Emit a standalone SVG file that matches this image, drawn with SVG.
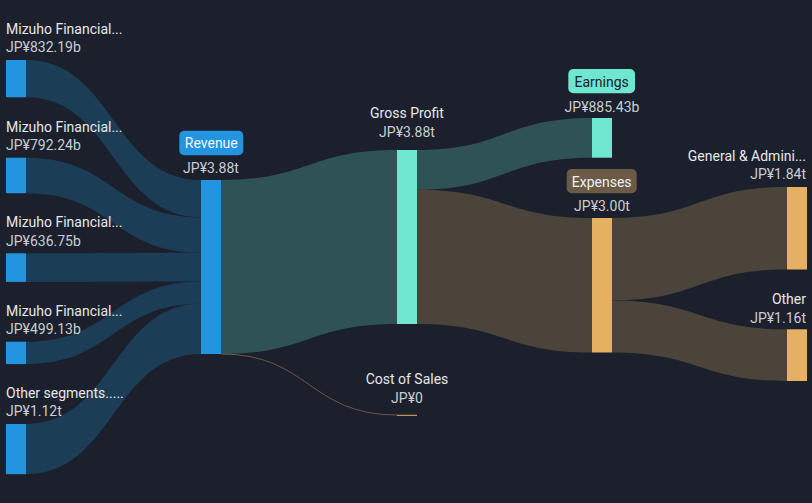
<svg xmlns="http://www.w3.org/2000/svg" width="812" height="503" viewBox="0 0 812 503">
<style>
text{font-family:Roboto,"Liberation Sans",sans-serif;font-size:14px}
.lbl{fill:#e6e8eb}
.val{fill:#c9cdd3}
.mid{text-anchor:middle}
.end{text-anchor:end}
.lseg{fill:#1c3d56}
.lrev{fill:#2f5257}
.lexp{fill:#4b443a}
.nblue{fill:#2394e0}
.nmint{fill:#6ee6d0}
.norange{fill:#e6b062}
</style>
<rect width="812" height="503" fill="#1b202c"/>
<g id="links">
<path class="lseg" d="M26,60 C113.5,60 113.5,180 201,180 L201,217.3 C113.5,217.3 113.5,97.3 26,97.3 Z"/>
<path class="lseg" d="M26,157.7 C113.5,157.7 113.5,217.3 201,217.3 L201,252.8 C113.5,252.8 113.5,193.2 26,193.2 Z"/>
<path class="lseg" d="M26,253.3 C113.5,253.3 113.5,252.8 201,252.8 L201,281.4 C113.5,281.4 113.5,281.9 26,281.9 Z"/>
<path class="lseg" d="M26,341.7 C113.5,341.7 113.5,281.4 201,281.4 L201,303.8 C113.5,303.8 113.5,364.1 26,364.1 Z"/>
<path class="lseg" d="M26,424 C113.5,424 113.5,303.8 201,303.8 L201,354 C113.5,354 113.5,474.2 26,474.2 Z"/>
<path class="lrev" d="M221,180 C309,180 309,150 397,150 L397,324 C309,324 309,354 221,354 Z"/>
<path d="M221,354 C309,354 309,415 397,415" fill="none" stroke="#6b5a45" stroke-width="1"/>
<path class="lrev" d="M417,150 C504.5,150 504.5,118 592,118 L592,157.7 C504.5,157.7 504.5,189.7 417,189.7 Z"/>
<path class="lexp" d="M417,189.7 C504.5,189.7 504.5,218 592,218 L592,352.5 C504.5,352.5 504.5,324 417,324 Z"/>
<path class="lexp" d="M612,218 C699.5,218 699.5,187 787,187 L787,269.5 C699.5,269.5 699.5,300.5 612,300.5 Z"/>
<path class="lexp" d="M612,300.5 C699.5,300.5 699.5,329.3 787,329.3 L787,381 C699.5,381 699.5,352.5 612,352.5 Z"/>
</g>
<g id="seg1">
<rect class="nblue" x="6" y="60" width="20" height="37.3"/>
<text class="lbl" x="6" y="34">Mizuho Financial...</text>
<text class="val" x="6" y="52">JP¥832.19b</text>
</g>
<g id="seg2">
<rect class="nblue" x="6" y="157.7" width="20" height="35.5"/>
<text class="lbl" x="6" y="131.5">Mizuho Financial...</text>
<text class="val" x="6" y="150">JP¥792.24b</text>
</g>
<g id="seg3">
<rect class="nblue" x="6" y="253.3" width="20" height="28.6"/>
<text class="lbl" x="6" y="227">Mizuho Financial...</text>
<text class="val" x="6" y="245.5">JP¥636.75b</text>
</g>
<g id="seg4">
<rect class="nblue" x="6" y="341.7" width="20" height="22.4"/>
<text class="lbl" x="6" y="316">Mizuho Financial...</text>
<text class="val" x="6" y="334">JP¥499.13b</text>
</g>
<g id="seg5">
<rect class="nblue" x="6" y="424" width="20" height="50.2"/>
<text class="lbl" x="6" y="398">Other segments.....</text>
<text class="val" x="6" y="416">JP¥1.12t</text>
</g>
<g id="revenue">
<rect class="nblue" x="201" y="180" width="20" height="174"/>
<rect x="179.3" y="130.7" width="64" height="24.5" rx="5" fill="#2394e0"/>
<text class="mid" x="211.3" y="148" fill="#f2f6fa">Revenue</text>
<text class="val mid" x="211" y="173">JP¥3.88t</text>
</g>
<g id="grossprofit">
<rect class="nmint" x="397" y="150" width="20" height="174"/>
<text class="lbl mid" x="407" y="118">Gross Profit</text>
<text class="val mid" x="407" y="136.5">JP¥3.88t</text>
</g>
<g id="costofsales">
<rect class="norange" x="397" y="414.8" width="20" height="1"/>
<text class="lbl mid" x="407" y="383.5">Cost of Sales</text>
<text class="val mid" x="407" y="402.5">JP¥0</text>
</g>
<g id="earnings">
<rect class="nmint" x="592" y="118" width="20" height="39.7"/>
<rect x="568.3" y="69" width="66.7" height="24.3" rx="5" fill="#6ee6d0"/>
<text class="mid" x="601.7" y="86.5" fill="#1b202c">Earnings</text>
<text class="val mid" x="602" y="111.5">JP¥885.43b</text>
</g>
<g id="expenses">
<rect class="norange" x="592" y="218" width="20" height="134.5"/>
<rect x="566.7" y="169" width="70" height="24.3" rx="5" fill="#6b5a45"/>
<text class="mid" x="601.7" y="186.5" fill="#eef0f2">Expenses</text>
<text class="val mid" x="602" y="210.5">JP¥3.00t</text>
</g>
<g id="genadmin">
<rect class="norange" x="787" y="187" width="20" height="82.5"/>
<text class="lbl end" x="806" y="160.5">General &amp; Admini...</text>
<text class="val end" x="806" y="179">JP¥1.84t</text>
</g>
<g id="other">
<rect class="norange" x="787" y="329.3" width="20" height="51.7"/>
<text class="lbl end" x="806" y="304">Other</text>
<text class="val end" x="806" y="322.5">JP¥1.16t</text>
</g>
</svg>
